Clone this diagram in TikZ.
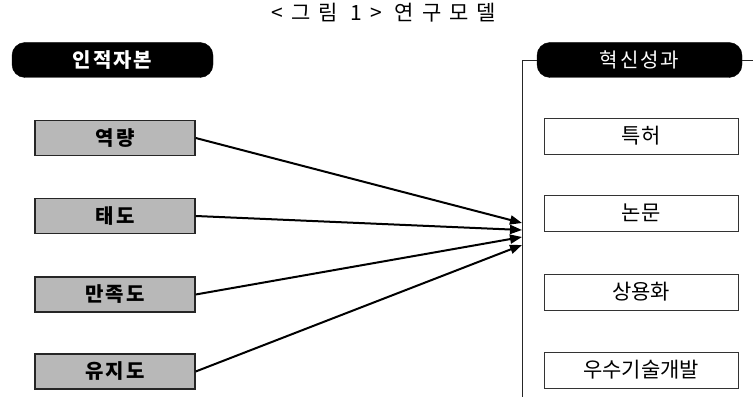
\documentclass[tikz,border=0pt]{standalone}
\usepackage{fontspec}
\setmainfont{Noto Sans CJK KR}
\newfontfamily\krtitle[LetterSpace=38]{Noto Sans CJK KR}
\newfontfamily\krspaced[LetterSpace=10]{Noto Sans CJK KR}
\usetikzlibrary{arrows.meta}
\tikzset{
  pill/.style={draw=black, fill=black, rounded corners=13pt, minimum height=35pt, inner sep=0pt, text=white, font=\krspaced\fontsize{20}{20}\selectfont},
  leftbox/.style={draw=black!85, line width=1.4pt, fill=black!28, minimum width=160pt, minimum height=35pt, inner sep=0pt, font=\krspaced\bfseries\fontsize{20}{20}\selectfont},
  rightbox/.style={draw=black!80, line width=0.8pt, fill=white, minimum width=194pt, minimum height=36pt, inner sep=0pt, font=\fontsize{21}{21}\selectfont},
  conn/.style={line width=2pt, -{Triangle[length=12pt,width=9pt]}},
  frame/.style={line width=0.8pt, draw=black!85}
}
\begin{document}
\begin{tikzpicture}[x=1pt,y=-1pt]
\useasboundingbox (0,0) rectangle (753,403);
\node (title) at (384,13) {\krtitle\fontsize{21}{21}\selectfont <그림 1> 연구모델};
\node[pill, minimum width=201pt] (hc) at (112.5,60) {\bfseries 인적자본};
\node[pill, minimum width=205pt] (io) at (639.5,60) {혁신성과};
\node[leftbox] (a1) at (115,138) {역량};
\node[leftbox] (a2) at (115,216) {태도};
\node[leftbox] (a3) at (115,294.5) {만족도};
\node[leftbox] (a4) at (115,371.5) {유지도};
\node[rightbox] (b1) at (641,136) {특허};
\node[rightbox] (b2) at (641,213) {논문};
\node[rightbox] (b3) at (641,292) {상용화};
\node[rightbox] (b4) at (641,370) {우수기술개발};
\coordinate (vtop) at (522,60);
\coordinate (vbot) at (522,397);
\coordinate (rend) at (753,60);
\draw[frame] (vbot) -- (vtop) -- (io.west);
\draw[frame] (io.east) -- (rend);
\coordinate (t1) at (522,223);
\coordinate (t2) at (522,230);
\coordinate (t3) at (522,237);
\coordinate (t4) at (522,245);
\draw[conn] (a1.east) -- (t1);
\draw[conn] (a2.east) -- (t2);
\draw[conn] (a3.east) -- (t3);
\draw[conn] (a4.east) -- (t4);
\end{tikzpicture}
\end{document}
